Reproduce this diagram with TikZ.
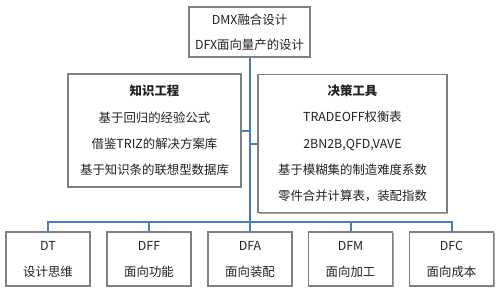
\documentclass[tikz,border=0pt]{standalone}
\usepackage{fontspec}
\setmainfont{Noto Sans CJK SC}
\usetikzlibrary{shadows}
\definecolor{linkblue}{HTML}{4A7EBB}
\definecolor{boxgrey}{HTML}{7F7F7F}
\definecolor{ink}{HTML}{222222}
\begin{document}
\begin{tikzpicture}[x=0.75pt,y=-0.75pt,
  box/.style={draw=boxgrey, line width=0.9pt, fill=white, text=ink, align=center, inner sep=0pt,
    drop shadow={shadow xshift=1pt, shadow yshift=-1pt, opacity=0.35, fill=black},
    font=\fontsize{9.3}{19.8}\selectfont},
  bot/.style={box, minimum width={84*0.75pt}, minimum height={54*0.75pt}, font=\fontsize{9.3}{19.5}\selectfont},
  link/.style={draw=linkblue, line width=1.5pt}]
\useasboundingbox[fill=white] (0,0) rectangle (499,293);
\node[box, minimum width={121*0.75pt}, minimum height={50*0.75pt}, font=\fontsize{9.3}{18.75}\selectfont] (top) at (249.5,32) {DMX融合设计\\DFX面向量产的设计};
\node[box, minimum width={173*0.75pt}, minimum height={113*0.75pt}] (left) at (154.5,130.5) {\textbf{知识工程}\\基于回归的经验公式\\借鉴TRIZ的解决方案库\\基于知识条的联想型数据库};
\node[box, minimum width={189*0.75pt}, minimum height={138*0.75pt}] (right) at (352.5,143.5) {\textbf{决策工具}\\TRADEOFF权衡表\\2BN2B,QFD,VAVE\\基于模糊集的制造难度系数\\零件合并计算表，装配指数};
\node[bot] (b1) at (48,259) {DT\\设计思维};
\node[bot] (b2) at (149,259) {DFF\\面向功能};
\node[bot] (b3) at (250,259) {DFA\\面向装配};
\node[bot] (b4) at (350.5,259) {DFM\\面向加工};
\node[bot] (b5) at (451.5,259) {DFC\\面向成本};
\coordinate (bus) at ([yshift=6.75pt]b3.north);
\draw[link] (top.south) -- (top.south |- bus);
\draw[link] (left.east) -- (left.east -| top.south);
\draw[link] (right.west) -- (right.west -| top.south);
\draw[link] (b1.north) -- (b1.north |- bus) -| (b5.north);
\draw[link] (b2.north) -- (b2.north |- bus);
\draw[link] (b3.north) -- (bus);
\draw[link] (b4.north) -- (b4.north |- bus);
\end{tikzpicture}
\end{document}
